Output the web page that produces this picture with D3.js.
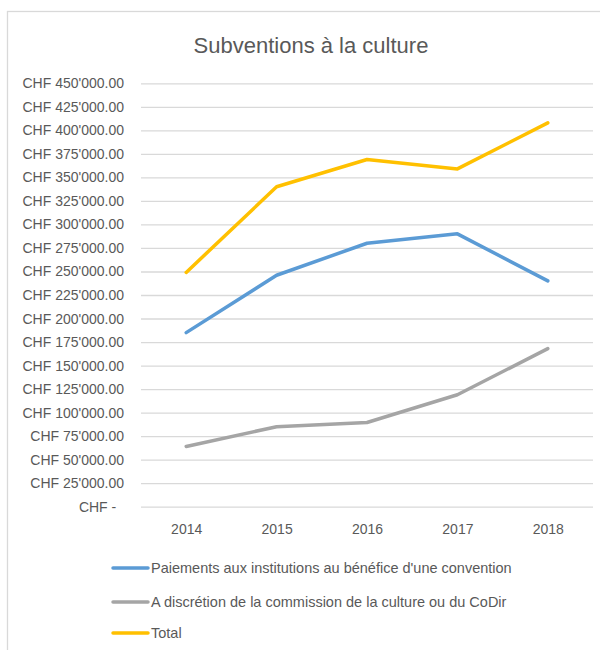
<!DOCTYPE html>
<html>
<head>
<meta charset="utf-8">
<script src="https://cdn.jsdelivr.net/npm/d3@7"></script>
<style>
  body { margin: 0; background: #fff; }
  text { font-family: "Liberation Sans", Arial, sans-serif; fill: #595959; }
</style>
</head>
<body>
<div id="chart"></div>
<script>
//////////////////////////////////////////////
// Data //////////////////////////////////////
//////////////////////////////////////////////
var years = ["2014", "2015", "2016", "2017", "2018"];

var paiements = [185000, 246000, 280000, 290000, 240000];
var discretion = [64000, 85000, 89500, 119000, 168000];
var total = [249000, 340000, 369000, 359000, 408000];

var seriesNames = [
  "Paiements aux institutions au bénéfice d'une convention",
  "A discrétion de la commission de la culture ou du CoDir",
  "Total"
];
var seriesColors = ["#5B9BD5", "#A5A5A5", "#FFC000"];

var yTicks = d3.range(0, 450001, 25000);
var title = "Subventions à la culture";

var series = [paiements, discretion, total].map(function(vals, i) {
  return { name: seriesNames[i], color: seriesColors[i], values: vals };
});

//////////////////////////////////////////////
// Chart Config /////////////////////////////
//////////////////////////////////////////////
var width = 600, height = 650;
var plot = {left: 141, right: 593, top: 83.3, bottom: 506.7};

// swiss style money: CHF 450'000.00
var chf = d3.formatLocale({decimal: ".", thousands: "'", grouping: [3], currency: ["CHF ", ""]});
var fmt = chf.format("$,.2f");
function tickLabel(d) { return d === 0 ? "CHF -\u00A0\u00A0" : fmt(d); }

var xScale = d3.scalePoint().domain(years).range([plot.left, plot.right]).padding(0.5);
var yScale = d3.scaleLinear().domain([0, 450000]).range([plot.bottom, plot.top]);

var svg = d3.select("#chart").append("svg")
  .attr("width", width)
  .attr("height", height);

// chart frame (goes past the right and bottom edge)
svg.append("rect")
  .attr("x", 7.5).attr("y", 11.5)
  .attr("width", 610).attr("height", 660)
  .attr("fill", "#fff")
  .attr("stroke", "#D9D9D9")
  .attr("stroke-width", 1.3);

svg.append("text")
  .attr("x", 311).attr("y", 45)
  .attr("text-anchor", "middle")
  .attr("dominant-baseline", "central")
  .style("font-size", "22px")
  .text(title);

// gridlines + y labels
var yAxis = d3.axisLeft(yScale)
  .tickValues(yTicks)
  .tickFormat(tickLabel)
  .tickSize(-(plot.right - plot.left))
  .tickPadding(17);

var yAxisEl = svg.append("g")
  .attr("class", "y axis")
  .attr("transform", "translate(" + plot.left + ",0)")
  .call(yAxis);
yAxisEl.select(".domain").remove();
yAxisEl.selectAll("line").attr("stroke", "#D9D9D9").attr("stroke-width", 1.3);
yAxisEl.selectAll("text")
  .attr("fill", "#595959")
  .style("font-size", "14px")
  .style("font-family", "'Liberation Sans', Arial, sans-serif");

// x labels
var xAxis = d3.axisBottom(xScale).tickSize(0).tickPadding(17);
var xAxisEl = svg.append("g")
  .attr("class", "x axis")
  .attr("transform", "translate(0," + plot.bottom + ")")
  .call(xAxis);
xAxisEl.select(".domain").remove();
xAxisEl.selectAll("text")
  .attr("fill", "#595959")
  .style("font-size", "14px")
  .style("font-family", "'Liberation Sans', Arial, sans-serif");

//////////////////////////////////////////////
// Drawing ///////////////////////////////////
//////////////////////////////////////////////
var line = d3.line()
  .x(function(d, i) { return xScale(years[i]); })
  .y(function(d) { return yScale(d); });

svg.selectAll(".trace")
  .data(series)
  .enter().append("path")
  .attr("class", "trace")
  .attr("d", function(d) { return line(d.values); })
  .style("fill", "none")
  .style("stroke", function(d) { return d.color; })
  .style("stroke-width", "3.5px")
  .style("stroke-linecap", "round")
  .style("stroke-linejoin", "round");

// legend, one row per series
var legendY = [568, 602, 633];
var legend = svg.selectAll(".legend")
  .data(series)
  .enter().append("g")
  .attr("class", "legend")
  .attr("transform", function(d, i) { return "translate(113," + legendY[i] + ")"; });

legend.append("line")
  .attr("x1", 0).attr("x2", 35)
  .attr("stroke", function(d) { return d.color; })
  .attr("stroke-width", 3.5)
  .attr("stroke-linecap", "round");

legend.append("text")
  .attr("x", 38)
  .attr("dominant-baseline", "central")
  .style("font-size", "14.5px")
  .text(function(d) { return d.name; });
</script>
</body>
</html>
